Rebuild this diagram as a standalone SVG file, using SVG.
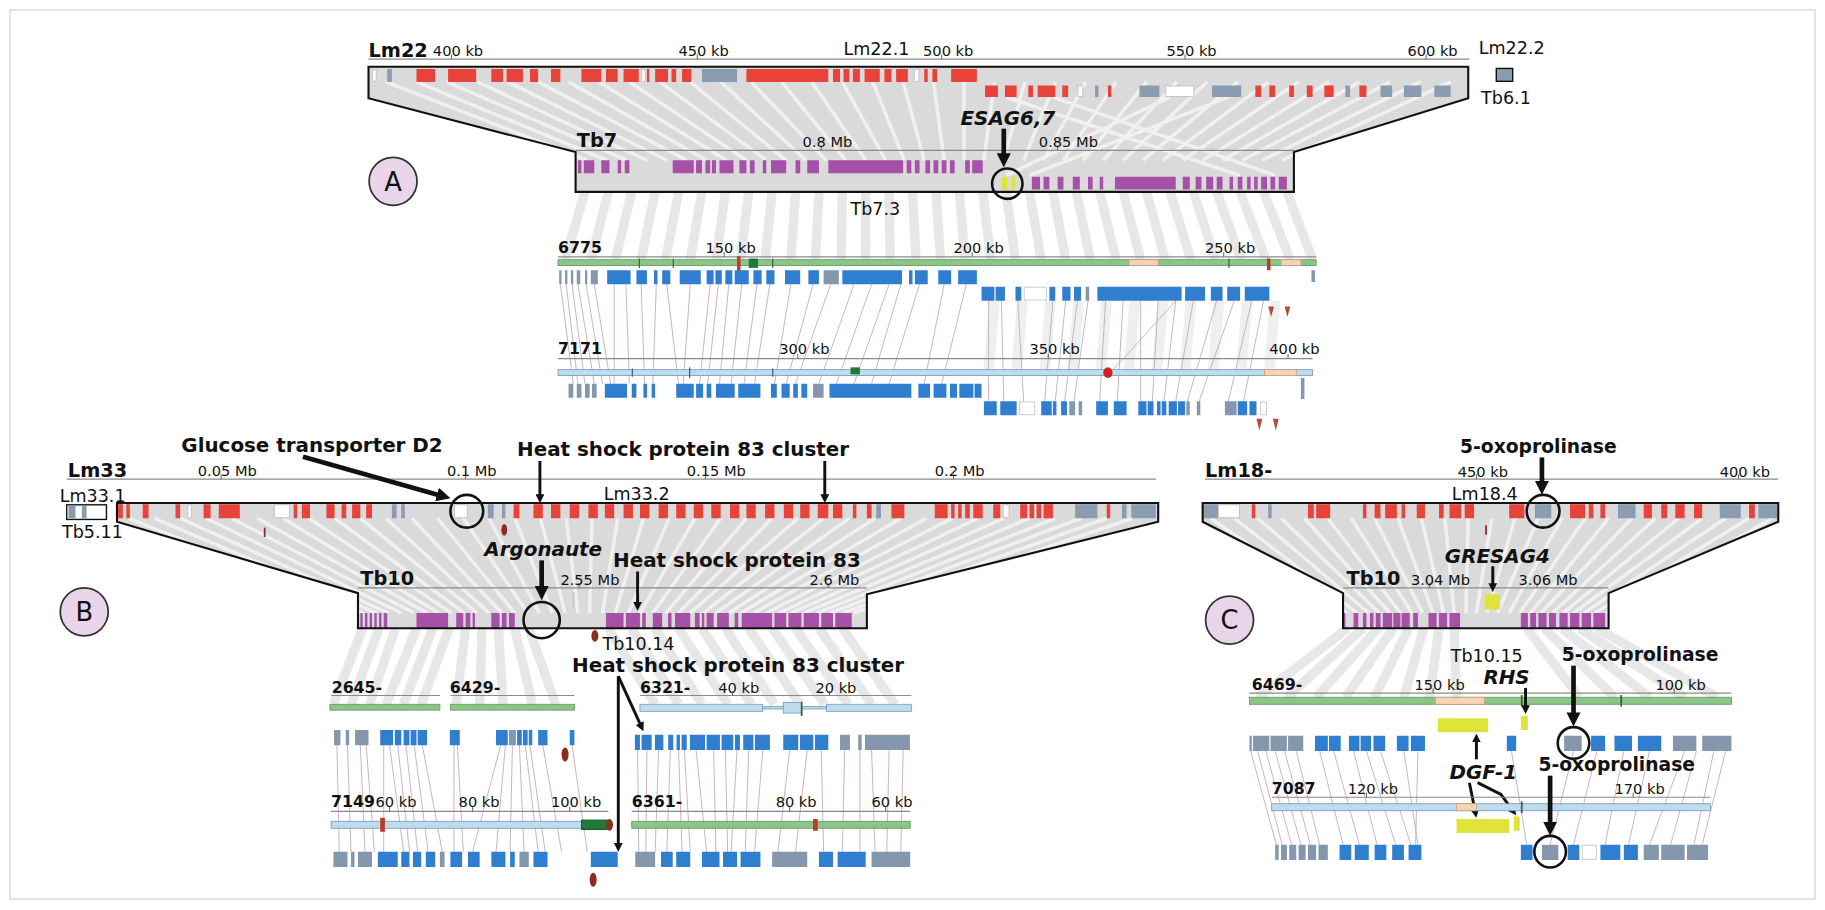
<svg xmlns="http://www.w3.org/2000/svg" width="1825" height="910" viewBox="0 0 1825 910">
<defs>
<style>
.t{font-family:"DejaVu Sans","Liberation Sans",sans-serif;fill:#111}
.kb{font-size:12.5px}
.nm{font-size:16.5px;font-weight:bold}
.sub{font-size:15px}
.ct{font-size:13.5px;font-weight:bold}
.lbl{font-size:17px;font-weight:bold}
.lb16{font-size:16px;font-weight:bold}
.lbi{font-size:17px;font-weight:bold;font-style:italic}
.cl{font-size:22px;text-anchor:middle}
.r{fill:#e8433a}.g{fill:#8a9cb0}.o{fill:#fff;stroke:#b4b4b4;stroke-width:.6}
.p{fill:#a650a8}.b{fill:#2f7ed0}.gb{fill:#8597ac}.y{fill:#dfe33a}
.ax{stroke:#8a8a8a;stroke-width:1;fill:none}
.tk{stroke:#555;stroke-width:.8;fill:none}
.box{fill:#dadada;stroke:none}
.edge{fill:none;stroke:#111;stroke-width:1.8;stroke-linejoin:miter}
.sw{stroke:#fff;stroke-opacity:.6;stroke-width:3;fill:none}
.bd{stroke:#e7e7e7;stroke-width:8;fill:none}
.bd2{stroke:#efefef;stroke-width:9;fill:none}
.cn{stroke:#c4aec4;stroke-width:.8;fill:none}
.gr{fill:#8cc587;stroke:#5e9a5a;stroke-width:.7}
.lb{fill:#bfdbec;stroke:#6f9cb8;stroke-width:.7}
.pc{fill:#f5d3b3;stroke:#c49c7c;stroke-width:.6}
.dr{fill:#8b2e1f}
.ring{fill:none;stroke:#111;stroke-width:2.2}
.circ{fill:#e8d5ea;stroke:#333;stroke-width:1.5}
.ar4{stroke:#111;stroke-width:4;fill:none;marker-end:url(#ah)}
.ar2{stroke:#111;stroke-width:2.5;fill:none;marker-end:url(#ah)}
</style>
<marker id="ah" viewBox="0 0 10 10" refX="3" refY="5" markerWidth="3" markerHeight="3" orient="auto" markerUnits="strokeWidth"><path d="M0,0L10,5L0,10z" fill="#111"/></marker>
<clipPath id="cA"><polygon points="315,57 1255,57 1255,84 1106,130 1106,164 492,164 492,130 315,84"/></clipPath>
<clipPath id="cB"><polygon points="100,430 990,430 990,446 741,508 741,537 306,537 306,507 100,446"/></clipPath>
<clipPath id="cC"><polygon points="1028,430 1520,430 1520,446 1375,507 1375,537 1148,537 1148,507 1028,446"/></clipPath>
</defs>
<rect width="1825" height="910" fill="#fff"/>
<rect x="10" y="10" width="1805" height="889" fill="none" stroke="#d2d2d2" stroke-width="1.2"/>
<g transform="scale(1.1699)">

<g id="connectors">
<path class="bd" d="M500 164L483 222M520 164L505 222M540 164L526 222M560 164L548 222M580 164L569 222M600 164L590 222M620 164L612 222M640 164L633 222M660 164L654 222M680 164L676 222M700 164L697 222M720 164L719 222M740 164L740 222M760 164L761 222M780 164L783 222M800 164L804 222M820 164L825 222M840 164L847 222M860 164L868 222M880 164L890 222M900 164L911 222M920 164L932 222M940 164L954 222M960 164L975 222M980 164L996 222M1000 164L1018 222M1020 164L1039 222M1040 164L1061 222M1060 164L1082 222M1080 164L1103 222M1100 164L1122 222"/>
<path class="bd2" d="M850 257L845 316M874 257L869 316M898 257L893 316M922 257L917 316M946 257L941 316M970 257L965 316M994 257L989 316M1018 257L1013 316M1042 257L1037 316M1066 257L1061 316M1090 257L1085 316"/>
<path class="cn" d="M479 243L490 328M484 243L494 328M489 243L500 328M494 243L508 328M501 243L515 328M508 243L522 328M525 243L525 328M535 243L538 328M548 243L551 328M561 243L558 328M570 243L580 328M590 243L584 328M607 243L598 328M614 243L605 328M623 243L615 328M634 243L625 328M647 243L636 328M658 243L645 328M676 243L662 328M695 243L672 328M710 243L680 328M730 243L700 328M745 243L715 328M760 243L730 328M770 243L745 328M786 243L760 328M807 243L790 328M826 243L805 328M845 257L845 343M856 257L858 343M870 257L875 343M900 257L893 343M911 257L902 343M921 257L910 343M930 257L918 343M945 257L940 343M960 257L955 343M975 257L975 343M990 257L985 343M1005 257L995 343M1020 257L1005 343M1040 257L1015 343M1055 257L1025 343M1070 257L1050 343M1080 257L1063 343M1005 257L948 320"/>
<path class="bd" d="M310 537L285 602M324 537L300 602M338 537L316 602M356 537L330 602M370 537L345 602M384 537L360 602M398 537L390 602M412 537L410 602M426 537L430 602M440 537L455 602M452 537L475 602M520 537L560 602M540 537L580 602M560 537L600 602M580 537L622 602M600 537L642 602M620 537L662 602M640 537L684 602M660 537L705 602M680 537L725 602M700 537L745 602M720 537L765 602"/>
<path class="cn" d="M288 637L290 728M297 637L300 728M308 637L312 728M313 637L320 728M328 637L328 728M333 637L345 728M340 637L350 728M347 637L357 728M354 637L366 728M361 637L378 728M388 637L388 728M391 637L396 728M428 637L404 728M432 637L424 728M438 637L436 728M444 637L448 728M449 637L460 728M453 637L466 728M464 637L480 728M489 637L502 728M545 641L546 728M553 641L552 728M563 641L560 728M573 641L570 728M580 641L583 728M585 641L590 728M595 641L604 728M610 641L612 728M620 641L622 728M630 641L625 728M640 641L637 728M652 641L645 728M675 641L665 728M690 641L680 728M702 641L704 728M722 641L720 728M735 641L735 728M745 641L748 728M760 641L758 728M772 641L770 728"/>
<path class="bd" d="M1152 537L1075 596M1165 537L1100 596M1178 537L1125 596M1191 537L1150 596M1204 537L1175 596M1217 537L1200 596M1230 537L1222 596M1243 537L1245 596M1305 537L1350 596M1320 537L1380 596M1335 537L1410 596M1350 537L1440 596M1365 537L1468 596"/>
<path class="cn" d="M1069 642L1091 722M1075 642L1096 722M1082 642L1104 722M1090 642L1112 722M1098 642L1120 722M1108 642L1128 722M1128 642L1148 722M1140 642L1162 722M1157 642L1177 722M1168 642L1193 722M1180 642L1206 722M1200 642L1212 722M1212 642L1210 722M1292 642L1305 722M1345 642L1325 722M1365 642L1345 722M1388 642L1372 722M1410 642L1392 722M1440 642L1410 722M1450 642L1428 722M1465 642L1448 722M1475 642L1455 722"/>
</g>

<g id="panelA">
<g id="boxA">
<polygon class="box" points="315,57 1255,57 1255,84 1106,130 1106,164 492,164 492,130 315,84"/>
<path class="sw" clip-path="url(#cA)" d="M330 70L502 137M356 70L519 137M382 70L536 137M408 70L553 137M434 70L570 137M460 70L587 137M486 70L604 137M512 70L621 137M538 70L638 137M564 70L655 137M590 70L672 137M616 70L689 137M642 70L706 137M668 70L723 137M694 70L740 137M720 70L757 137M746 70L773 137M772 70L790 137M798 70L807 137M824 70L824 137M850 70L841 137M876 70L858 137M902 70L875 137M928 70L892 137M954 70L909 137M980 70L926 137M1006 70L943 137M1032 70L960 137M1058 70L977 137M1084 70L994 137M1110 70L1011 137M1136 70L1028 137M1162 70L1045 137M1188 70L1062 137M1214 70L1079 137M1240 70L1096 137M860 83L1060 150M900 83L1090 150M1000 83L860 150M1050 83L880 150"/>
<line class="ax" x1="492" y1="128.5" x2="1106" y2="128.5"/>
<path class="tk" d="M702 128.5v-4M904 128.5v-4"/>
<path class="r" d="M356 59h16v11h-16zM383 59h24v11h-24zM420 59h10v11h-10zM433 59h14v11h-14zM453 59h7v11h-7zM471 59h8v11h-8zM497 59h17v11h-17zM518 59h10v11h-10zM533 59h13v11h-13zM553 59h2v11h-2zM560 59h11v11h-11zM574 59h4v11h-4zM583 59h8v11h-8zM638 59h70v11h-70zM712 59h6v11h-6zM721 59h5v11h-5zM729 59h6v11h-6zM739 59h13v11h-13zM756 59h6v11h-6zM766 59h10v11h-10zM790 59h3v11h-3zM797 59h4v11h-4zM813 59h22v11h-22z"/>
<path class="g" d="M331 59h4v11h-4zM600 59h30v11h-30z"/>
<path class="o" d="M318.5 59.5h3v10h-3zM548.5 59.5h3v10h-3zM781.5 59.5h4v10h-4z"/>
<path class="r" d="M842 73h11v10h-11zM859 73h10v10h-10zM879 73h4v10h-4zM887 73h15v10h-15zM908 73h5v10h-5zM947 73h3v10h-3zM1073 73h5v10h-5zM1085 73h5v10h-5zM1102 73h4v10h-4zM1117 73h5v10h-5zM1132 73h8v10h-8zM1162 73h6v10h-6z"/>
<path class="g" d="M936 73h3v10h-3zM974 73h17v10h-17zM1036 73h25v10h-25zM1150 73h4v10h-4zM1180 73h10v10h-10zM1200 73h15v10h-15zM1226 73h14v10h-14z"/>
<path class="o" d="M921.5 73.5h4v9h-4zM996.5 73.5h24v9h-24z"/>
<path class="p" d="M494 137h3v11h-3zM499 137h9v11h-9zM514 137h7v11h-7zM528 137h3v11h-3zM534 137h4v11h-4zM575 137h18v11h-18zM595 137h5v11h-5zM603 137h4v11h-4zM608.5 137h3.5v11h-3.5zM615 137h12v11h-12zM632 137h6v11h-6zM641 137h4v11h-4zM652 137h3v11h-3zM659 137h13v11h-13zM680 137h4v11h-4zM690 137h10v11h-10zM708 137h64v11h-64zM775 137h4v11h-4zM782 137h4v11h-4zM791 137h4v11h-4zM798 137h4v11h-4zM805 137h4v11h-4zM812 137h4v11h-4zM825 137h4v11h-4zM831 137h9v11h-9z"/>
<path class="p" d="M882 151h7v11h-7zM892 151h5v11h-5zM904 151h5v11h-5zM917 151h6v11h-6zM930 151h4v11h-4zM940 151h3v11h-3zM953 151h52v11h-52zM1011 151h6v11h-6zM1022 151h5v11h-5zM1031 151h6v11h-6zM1040 151h5v11h-5zM1051 151h3v11h-3zM1058 151h4v11h-4zM1066 151h3v11h-3zM1072 151h3v11h-3zM1078 151h5v11h-5zM1086 151h4v11h-4zM1093 151h7v11h-7z"/>
<path class="y" d="M856.5 151h4.5v11h-4.5zM864.5 151h3.5v11h-3.5z"/>
<polygon class="edge" points="315,57 1255,57 1255,84 1106,130 1106,164 492,164 492,130 315,84"/>
</g>
<line class="ax" x1="315" y1="50.5" x2="1256" y2="50.5"/>
<path class="tk" d="M386 50.5v-4M596 50.5v-4M805 50.5v-4M1013 50.5v-4M1219 50.5v-4"/>
<text class="t nm" x="315" y="48.5">Lm22</text>
<text class="t kb" x="370" y="48">400 kb</text>
<text class="t kb" x="580" y="48">450 kb</text>
<text class="t sub" x="721" y="47">Lm22.1</text>
<text class="t kb" x="789" y="48">500 kb</text>
<text class="t kb" x="997" y="48">550 kb</text>
<text class="t kb" x="1203" y="48">600 kb</text>
<text class="t nm" x="493" y="126">Tb7</text>
<text class="t kb" x="686" y="126">0.8 Mb</text>
<text class="t kb" x="888" y="126">0.85 Mb</text>
<g id="lm222">
<text class="t sub" x="1264" y="46">Lm22.2</text>
<rect x="1279" y="58.5" width="14" height="11" fill="#8a9cb0" stroke="#111" stroke-width="1.2"/>
<text class="t sub" x="1266" y="89">Tb6.1</text>
</g>
<g id="esag">
<text class="t lbi" x="821" y="107">ESAG6,7</text>
<line class="ar4" x1="858" y1="110" x2="858" y2="134.6"/>
<circle class="ring" cx="861" cy="157" r="13"/>
</g>
<text class="t sub" x="727" y="184">Tb7.3</text>
<g id="labelA"><circle class="circ" cx="336" cy="155" r="20.5"/><text class="t cl" x="336" y="163">A</text></g>
<g id="c6775">
<text class="t ct" x="477" y="216">6775</text>
<text class="t kb" x="603" y="216">150 kb</text>
<text class="t kb" x="815" y="216">200 kb</text>
<text class="t kb" x="1030" y="216">250 kb</text>
<line class="ax" x1="477" y1="219.5" x2="1125" y2="219.5"/>
<path class="tk" d="M619 219.5v-4M831 219.5v-4M1046 219.5v-4"/>
<rect class="gr" x="477" y="222" width="648" height="5"/>
<rect class="pc" x="965" y="222" width="25" height="5"/>
<rect class="pc" x="1095" y="222" width="17" height="5"/>
<path fill="#c0392b" d="M630 219h3v13h-3zM1083 221h3v10h-3z"/>
<path fill="#1e7a3a" d="M640 221h8v8h-8z"/>
<path fill="#3b5f3b" d="M546 221h1v8h-1zM575 221h1v8h-1zM660 221h1v8h-1zM1050 221h1v8h-1z"/>
<path class="gb" d="M478 231h2v12h-2zM483 231h2v12h-2zM488 231h2v12h-2zM493 231h3v12h-3zM500 231h2v12h-2zM505 231h6v12h-6zM704 231h13v12h-13zM1121 231h3v10h-3zM928 245h3v12h-3z"/>
<path class="b" d="M519 231h20v12h-20zM544 231h9v12h-9zM559 231h3v12h-3zM566 231h7v12h-7zM581 231h18v12h-18zM604 231h6v12h-6zM611.5 231h5.5v12h-5.5zM620 231h6v12h-6zM628 231h12v12h-12zM644 231h7v12h-7zM655 231h7v12h-7zM671 231h13v12h-13zM691 231h9v12h-9zM720 231h51v12h-51zM777 231h3v12h-3zM782 231h11v12h-11zM802 231h11v12h-11zM819 231h16v12h-16z"/>
<path class="b" d="M839 245h11v12h-11zM851 245h8v12h-8zM868 245h5v12h-5zM897 245h5v12h-5zM908 245h7v12h-7zM918 245h6v12h-6zM938 245h72v12h-72zM1013 245h17v12h-17zM1035 245h10v12h-10zM1049 245h11v12h-11zM1064 245h21v12h-21z"/>
<path class="o" d="M875.5 245.5h19v11h-19z"/>
<path fill="#b0503c" d="M1084 262l2.5 9l2.5-9zM1098 262l2.5 9l2.5-9z"/>
</g>
<g id="c7171">
<text class="t ct" x="477" y="303">7171</text>
<text class="t kb" x="666" y="303">300 kb</text>
<text class="t kb" x="880" y="303">350 kb</text>
<text class="t kb" x="1085" y="303">400 kb</text>
<line class="ax" x1="477" y1="306.5" x2="1122" y2="306.5"/>
<path class="tk" d="M682 306.5v-4M896 306.5v-4M1101 306.5v-4"/>
<rect class="lb" x="477" y="316" width="645" height="5"/>
<rect class="pc" x="1081" y="316" width="27" height="5"/>
<ellipse cx="947" cy="318.5" rx="4" ry="4.5" fill="#d42020"/>
<path fill="#1e7a3a" d="M727 314h8v6h-8z"/>
<path fill="#3b5a6a" d="M540 315h1v7h-1zM660 315h1v7h-1zM589 314h1v9h-1z"/>
<path class="gb" d="M486 328h4v12h-4zM493 328h4v12h-4zM500 328h4v12h-4zM506 328h4v12h-4zM695 328h9v12h-9zM1112 323h3v18h-3zM914 343h5v12h-5zM922 343h3v12h-3zM1014 343h3v12h-3zM1023 343h3v12h-3zM1047 343h10v12h-10z"/>
<path class="b" d="M517 328h19v12h-19zM540 328h4v12h-4zM550 328h3v12h-3zM557 328h3v12h-3zM578 328h15v12h-15zM595 328h6v12h-6zM604 328h4v12h-4zM612 328h16v12h-16zM631 328h19v12h-19zM659 328h5v12h-5zM668 328h7v12h-7zM678 328h4v12h-4zM685 328h5v12h-5zM709 328h70v12h-70zM785 328h10v12h-10zM798 328h11v12h-11zM812 328h6v12h-6zM820 328h12v12h-12zM833 328h6v12h-6z"/>
<path class="b" d="M841 343h11v12h-11zM855 343h14v12h-14zM890 343h9v12h-9zM900 343h3v12h-3zM907 343h5v12h-5zM937 343h10v12h-10zM952 343h11v12h-11zM973 343h7v12h-7zM981 343h5v12h-5zM989 343h3v12h-3zM993 343h4v12h-4zM999 343h7v12h-7zM1007 343h6v12h-6zM1058 343h8v12h-8zM1068 343h6v12h-6z"/>
<path class="o" d="M871.5 343.5h13v11h-13zM1077.5 343.5h5v11h-5z"/>
<path fill="#b0503c" d="M1074 358l2.5 10l2.5-10zM1088 358l2.5 10l2.5-10z"/>
</g>
</g>

<g id="panelB">
<g id="boxB">
<polygon class="box" points="100,430 990,430 990,446 741,508 741,537 306,537 306,507 100,446"/>
<path class="sw" clip-path="url(#cB)" d="M110 443L311 524M132 443L322 524M154 443L332 524M176 443L343 524M198 443L354 524M220 443L365 524M242 443L375 524M264 443L386 524M286 443L397 524M308 443L408 524M330 443L418 524M352 443L429 524M374 443L440 524M396 443L451 524M418 443L461 524M440 443L472 524M462 443L483 524M484 443L494 524M506 443L504 524M528 443L515 524M550 443L526 524M572 443L537 524M594 443L547 524M616 443L558 524M638 443L569 524M660 443L580 524M682 443L590 524M704 443L601 524M726 443L612 524M748 443L623 524M770 443L633 524M792 443L644 524M814 443L655 524M836 443L666 524M858 443L676 524M880 443L687 524M902 443L698 524M924 443L709 524M946 443L720 524M968 443L730 524"/>
<line class="ax" x1="306" y1="502.5" x2="741" y2="502.5"/>
<path class="tk" d="M495 502.5v-4M708 502.5v-4"/>
<path class="r" d="M101 431h4v12h-4zM108 431h3v12h-3zM122 431h5v12h-5zM150 431h4v12h-4zM174 431h6v12h-6zM187 431h18v12h-18zM251 431h3v12h-3zM258 431h7v12h-7zM279 431h7v12h-7zM292 431h4v12h-4zM301 431h7v12h-7zM313 431h5v12h-5zM439 431h5v12h-5zM456 431h8v12h-8zM471 431h8v12h-8zM487 431h8v12h-8zM503 431h8v12h-8zM517 431h8v12h-8zM533 431h8v12h-8zM547 431h8v12h-8zM563 431h8v12h-8zM578 431h8v12h-8zM593 431h8v12h-8zM608 431h8v12h-8zM624 431h8v12h-8zM638 431h8v12h-8zM654 431h8v12h-8zM670 431h8v12h-8zM684 431h8v12h-8zM699 431h9v12h-9zM712 431h8v12h-8zM729 431h3v12h-3zM741 431h4v12h-4zM762 431h11v12h-11zM799 431h11v12h-11zM813 431h3v12h-3zM819 431h3v12h-3zM825 431h4v12h-4zM832 431h8v12h-8zM849 431h6v12h-6zM872 431h6v12h-6zM880 431h4v12h-4zM886 431h4v12h-4zM892 431h8v12h-8zM946 431h3v12h-3z"/>
<path class="g" d="M335 431h4v12h-4zM343 431h3v12h-3zM417 431h5v12h-5zM429 431h3v12h-3zM749 431h4v12h-4zM919 431h19v12h-19zM959 431h4v12h-4zM967 431h21v12h-21z"/>
<path class="o" d="M160.5 431.5h3v11h-3zM234.5 431.5h13v11h-13zM388.5 431.5h11v11h-11zM857.5 431.5h5v11h-5z"/>
<path class="p" d="M308 524h2v13h-2zM312 524h2v13h-2zM316 524h2v13h-2zM320 524h2v13h-2zM324 524h2v13h-2zM328 524h3v13h-3zM356 524h27v13h-27zM390 524h6v13h-6zM398 524h4v13h-4zM404 524h2v13h-2zM420 524h7v13h-7zM429 524h4v13h-4zM435 524h5v13h-5zM518 524h15v13h-15zM535 524h12v13h-12zM549 524h3v13h-3zM558 524h8v13h-8zM571 524h3v13h-3zM577 524h13v13h-13zM594 524h4v13h-4zM600 524h2v13h-2zM604 524h6v13h-6zM613 524h10v13h-10zM628 524h3v13h-3zM634 524h26v13h-26zM662 524h10v13h-10zM674 524h11v13h-11zM687 524h13v13h-13zM702 524h10v13h-10zM714 524h14v13h-14z"/>
<path fill="#c8c8c8" d="M489.5 506h1.5v14h-1.5z"/>
<path class="dr" d="M225.5 451h1.5v8h-1.5z"/>
<ellipse class="dr" cx="431" cy="453" rx="2.5" ry="5"/>
<polygon class="edge" points="100,430 990,430 990,446 741,508 741,537 306,537 306,507 100,446"/>
</g>
<line class="ax" x1="57" y1="409.5" x2="988" y2="409.5"/>
<path class="tk" d="M189 409.5v-4M398 409.5v-4M603 409.5v-4M815 409.5v-4"/>
<text class="t nm" x="58" y="407.5">Lm33</text>
<text class="t kb" x="169" y="407">0.05 Mb</text>
<text class="t kb" x="382" y="407">0.1 Mb</text>
<text class="t kb" x="587" y="407">0.15 Mb</text>
<text class="t kb" x="799" y="407">0.2 Mb</text>
<text class="t sub" x="516" y="427">Lm33.2</text>
<text class="t nm" x="308" y="500">Tb10</text>
<text class="t kb" x="479" y="500">2.55 Mb</text>
<text class="t kb" x="692" y="500">2.6 Mb</text>
<g id="lm331">
<text class="t sub" x="51" y="429">Lm33.1</text>
<rect x="57" y="431.5" width="34" height="12.5" fill="#fff" stroke="#111" stroke-width="1.2"/>
<path class="g" d="M58.5 432.5h6v10.5h-6zM70 432.5h4v10.5h-4z"/>
<text class="t sub" x="53" y="460">Tb5.11</text>
</g>
<g id="glucose">
<text class="t lbl" x="155" y="386">Glucose transporter D2</text>
<line class="ar4" x1="259" y1="390.5" x2="377" y2="423.7"/>
<circle class="ring" cx="399" cy="437" r="14"/>
</g>
<g id="hspcluster1">
<text class="t lbl" x="442" y="389.5">Heat shock protein 83 cluster</text>
<line class="ar2" x1="461.5" y1="394" x2="461.5" y2="424.8"/>
<line class="ar2" x1="705" y1="394" x2="705" y2="424.8"/>
</g>
<g id="argonaute">
<text class="t lbi" x="414" y="475">Argonaute</text>
<line class="ar4" x1="463" y1="479" x2="463" y2="504.6"/>
<circle class="ring" cx="463" cy="530" r="15.5"/>
</g>
<g id="hsp83">
<text class="t lbl" x="524" y="484.5">Heat shock protein 83</text>
<line class="ar2" x1="545" y1="488.5" x2="545" y2="516.8"/>
</g>
<ellipse class="dr" cx="508.5" cy="543.5" rx="3" ry="5"/>
<text class="t sub" x="515" y="555.5">Tb10.14</text>
<g id="hspcluster2">
<text class="t lbl" x="489" y="574">Heat shock protein 83 cluster</text>
<line class="ar2" x1="528.5" y1="578" x2="528.5" y2="722.8"/>
<line class="ar2" x1="528.5" y1="578" x2="547.8" y2="620.2"/>
</g>
<g id="labelB"><circle class="circ" cx="72" cy="523" r="20.5"/><text class="t cl" x="72" y="531">B</text></g>
<g id="c2645">
<text class="t ct" x="283.5" y="592.5">2645-</text>
<text class="t ct" x="384.5" y="592.5">6429-</text>
<line class="ax" x1="283" y1="594.5" x2="376" y2="594.5"/>
<line class="ax" x1="385" y1="594.5" x2="491" y2="594.5"/>
<rect class="gr" x="282" y="602" width="94" height="5"/>
<rect class="gr" x="385" y="602" width="106" height="5"/>
<path class="gb" d="M285.5 624h5.5v13h-5.5zM295.5 624h3v13h-3zM303.5 624h11.5v13h-11.5zM435 624h6v13h-6z"/>
<path class="b" d="M325 624h11v13h-11zM337.5 624h5.5v13h-5.5zM345 624h5v13h-5zM351 624h5v13h-5zM357 624h8v13h-8zM384.5 624h8.5v13h-8.5zM424 624h10v13h-10zM442 624h4v13h-4zM447 624h4v13h-4zM452 624h3v13h-3zM460 624h8v13h-8zM487 624h4v13h-4z"/>
<ellipse class="dr" cx="483" cy="645" rx="3" ry="6"/>
</g>
<g id="c6321">
<text class="t ct" x="547" y="592.3">6321-</text>
<text class="t kb" x="614" y="592">40 kb</text>
<text class="t kb" x="697" y="592">20 kb</text>
<line class="ax" x1="547" y1="594.5" x2="779" y2="594.5"/>
<path class="tk" d="M626 594.5v-4M709 594.5v-4"/>
<rect class="lb" x="547" y="602" width="105" height="6"/>
<rect class="lb" x="652" y="604" width="54" height="2"/>
<rect class="lb" x="669.5" y="600.5" width="15.5" height="9"/>
<rect class="lb" x="706.5" y="602" width="72.5" height="6"/>
<path fill="#3b5a6a" d="M684.5 600h1.5v12h-1.5z"/>
<path class="b" d="M542.7 628h4.3v13h-4.3zM548.4 628h8.6v13h-8.6zM559.8 628h7.2v13h-7.2zM571.2 628h4.3v13h-4.3zM578.3 628h2.9v13h-2.9zM582.6 628h4.4v13h-4.4zM589.7 628h12.9v13h-12.9zM604 628h11.4v13h-11.4zM616.8 628h10v13h-10zM628.2 628h4.3v13h-4.3zM635.3 628h8.7v13h-8.7zM645.3 628h12.8v13h-12.8zM669.5 628h12.8v13h-12.8zM683.8 628h11.4v13h-11.4zM696.6 628h11.4v13h-11.4z"/>
<path class="gb" d="M718 628h8.5v13h-8.5zM733.6 628h2.9v13h-2.9zM739.3 628h38.5v13h-38.5z"/>
</g>
<g id="c7149">
<text class="t ct" x="283" y="690">7149</text>
<text class="t kb" x="321" y="690">60 kb</text>
<text class="t kb" x="392" y="690">80 kb</text>
<text class="t kb" x="471" y="690">100 kb</text>
<text class="t ct" x="540" y="690">6361-</text>
<text class="t kb" x="663" y="690">80 kb</text>
<text class="t kb" x="745" y="690">60 kb</text>
<line class="ax" x1="283" y1="693.5" x2="520" y2="693.5"/>
<line class="ax" x1="540" y1="693.5" x2="778" y2="693.5"/>
<path class="tk" d="M333 693.5v-4M404 693.5v-4M487 693.5v-4M675 693.5v-4M757 693.5v-4"/>
<rect class="lb" x="283" y="702" width="237" height="6"/>
<rect class="gr" x="540" y="702" width="238" height="6"/>
<path fill="#c0392b" d="M325 699h4v12h-4zM695 700h4v10h-4z"/>
<rect x="497" y="701" width="22" height="8" fill="#1e7a3a" stroke="#0f4f22" stroke-width=".8"/>
<ellipse class="dr" cx="521" cy="705" rx="3" ry="5"/>
<path class="gb" d="M285 728h12v13h-12zM300 728h3v13h-3zM306 728h12v13h-12zM376 728h4v13h-4zM444 728h8v13h-8zM543 728h17v13h-17zM660 728h30v13h-30zM745 728h33v13h-33z"/>
<path class="b" d="M323 728h17v13h-17zM343 728h7v13h-7zM353 728h7v13h-7zM364 728h8v13h-8zM385 728h10v13h-10zM400 728h10v13h-10zM420 728h12v13h-12zM436 728h4v13h-4zM456 728h12v13h-12zM505 728h23v13h-23zM565 728h10v13h-10zM578 728h12v13h-12zM600 728h15v13h-15zM618 728h12v13h-12zM633 728h17v13h-17zM700 728h12v13h-12zM716 728h24v13h-24z"/>
<ellipse class="dr" cx="507" cy="752" rx="3" ry="6"/>
</g>
</g>

<g id="panelC">
<g id="boxC">
<polygon class="box" points="1028,430 1520,430 1520,446 1375,507 1375,537 1148,537 1148,507 1028,446"/>
<path class="sw" clip-path="url(#cC)" d="M1035 443L1151 524M1055 443L1160 524M1075 443L1170 524M1095 443L1179 524M1115 443L1188 524M1135 443L1197 524M1155 443L1207 524M1175 443L1216 524M1195 443L1225 524M1215 443L1234 524M1235 443L1243 524M1255 443L1253 524M1275 443L1262 524M1295 443L1271 524M1315 443L1280 524M1335 443L1290 524M1355 443L1299 524M1375 443L1308 524M1395 443L1317 524M1415 443L1327 524M1435 443L1336 524M1455 443L1345 524M1475 443L1354 524M1495 443L1363 524M1515 443L1373 524"/>
<line class="ax" x1="1148" y1="502.5" x2="1375" y2="502.5"/>
<path class="tk" d="M1222 502.5v-4M1314 502.5v-4"/>
<path class="r" d="M1070 431h3v12h-3zM1118 431h5v12h-5zM1125 431h12v12h-12zM1165 431h3v12h-3zM1175 431h5v12h-5zM1184 431h10v12h-10zM1198 431h3v12h-3zM1211 431h7v12h-7zM1230 431h4v12h-4zM1239 431h10v12h-10zM1252 431h8v12h-8zM1290 431h13v12h-13zM1342 431h13v12h-13zM1358 431h4v12h-4zM1368 431h4v12h-4zM1405 431h7v12h-7zM1420 431h5v12h-5zM1432 431h8v12h-8zM1448 431h7v12h-7zM1495 431h5v12h-5z"/>
<path class="g" d="M1028.5 431h12.5v12h-12.5zM1084 431h3v12h-3zM1312 431h14v12h-14zM1383 431h15v12h-15zM1470 431h18v12h-18zM1503 431h16v12h-16z"/>
<path class="o" d="M1041.5 431.5h18v11h-18z"/>
<path class="dr" d="M1269.5 449h1.5v8h-1.5z"/>
<path class="p" d="M1148 524h2v13h-2zM1157 524h4v13h-4zM1165 524h3v13h-3zM1171 524h3v13h-3zM1176 524h4v13h-4zM1182 524h8v13h-8zM1191 524h6v13h-6zM1198 524h7v13h-7zM1208 524h4v13h-4zM1221 524h7v13h-7zM1230 524h7v13h-7zM1239 524h9v13h-9zM1300 524h6v13h-6zM1308 524h5v13h-5zM1315 524h7v13h-7zM1324 524h6v13h-6zM1333 524h7v13h-7zM1342 524h8v13h-8zM1352 524h8v13h-8zM1362 524h10v13h-10z"/>
<path class="y" d="M1269 508h13v13h-13z"/>
<polygon class="edge" points="1028,430 1520,430 1520,446 1375,507 1375,537 1148,537 1148,507 1028,446"/>
</g>
<line class="ax" x1="1030" y1="409.5" x2="1520" y2="409.5"/>
<path class="tk" d="M1262 409.5v-4M1486 409.5v-4"/>
<text class="t nm" x="1030" y="407.5">Lm18-</text>
<text class="t kb" x="1246" y="407.5">450 kb</text>
<text class="t kb" x="1470" y="407.5">400 kb</text>
<text class="t sub" x="1241" y="427.5">Lm18.4</text>
<text class="t nm" x="1151" y="500">Tb10</text>
<text class="t kb" x="1206" y="500">3.04 Mb</text>
<text class="t kb" x="1298" y="500">3.06 Mb</text>
<text class="t sub" x="1240" y="566">Tb10.15</text>
<g id="oxo1">
<text class="t lb16" x="1248" y="387">5-oxoprolinase</text>
<line class="ar4" x1="1318" y1="391" x2="1318" y2="414.6"/>
<circle class="ring" cx="1319" cy="437" r="14"/>
</g>
<g id="gresag">
<text class="t lbi" x="1235" y="481">GRESAG4</text>
<line class="ar2" x1="1276" y1="484" x2="1276" y2="500.8"/>
</g>
<g id="labelC"><circle class="circ" cx="1051" cy="530" r="20.5"/><text class="t cl" x="1051" y="538">C</text></g>
<g id="c6469">
<text class="t ct" x="1070" y="590">6469-</text>
<text class="t kb" x="1209" y="590">150 kb</text>
<text class="t kb" x="1415" y="590">100 kb</text>
<line class="ax" x1="1068" y1="592.5" x2="1480" y2="592.5"/>
<path class="tk" d="M1225 592.5v-4M1431 592.5v-4"/>
<rect class="gr" x="1068" y="596" width="412" height="6"/>
<rect class="pc" x="1227" y="596" width="42" height="6"/>
<path fill="#3b5f3b" d="M1300 594h1.5v10h-1.5zM1385 594h1.5v10h-1.5z"/>
<path class="y" d="M1229 614h43v12h-43zM1300 612h6v12h-6z"/>
<path class="gb" d="M1068 629h2v13h-2zM1071 629h14v13h-14zM1086 629h14v13h-14zM1101 629h13v13h-13zM1337 629h15v13h-15zM1430 629h20v13h-20zM1455 629h25v13h-25z"/>
<path class="b" d="M1124 629h11v13h-11zM1136 629h10v13h-10zM1153 629h9v13h-9zM1163 629h9v13h-9zM1174 629h10v13h-10zM1194 629h10v13h-10zM1206 629h12v13h-12zM1288 629h8v13h-8zM1360 629h12v13h-12zM1380 629h15v13h-15zM1400 629h20v13h-20z"/>
</g>
<g id="rhs">
<text class="t lbi" x="1268" y="585">RHS</text>
<line class="ar2" x1="1304" y1="588" x2="1304" y2="605"/>
</g>
<g id="oxo2">
<text class="t lb16" x="1335" y="565">5-oxoprolinase</text>
<line class="ar4" x1="1345" y1="569" x2="1345" y2="612.6"/>
<circle class="ring" cx="1345" cy="635" r="13.5"/>
</g>
<g id="dgf">
<text class="t lbi" x="1239" y="666">DGF-1</text>
<line class="ar2" x1="1262" y1="649" x2="1262" y2="632.3"/>
<line class="ar2" x1="1256" y1="669" x2="1261" y2="693.9"/>
<polyline class="ar2" points="1263,669 1283,679 1292.9,692.7"/>
</g>
<g id="c7087">
<text class="t ct" x="1087" y="679">7087</text>
<text class="t kb" x="1152" y="679">120 kb</text>
<text class="t kb" x="1380" y="679">170 kb</text>
<line class="ax" x1="1087" y1="681.5" x2="1462" y2="681.5"/>
<path class="tk" d="M1168 681.5v-4M1396 681.5v-4"/>
<rect class="lb" x="1087" y="687" width="375" height="6"/>
<rect class="pc" x="1245" y="687" width="17" height="6"/>
<path fill="#3b5a6a" d="M1300 685h1.5v10h-1.5z"/>
<path class="y" d="M1245 700h45v12h-45zM1294 698h5v12h-5z"/>
<path class="gb" d="M1090 722h3v13h-3zM1095 722h5v13h-5zM1102 722h6v13h-6zM1110 722h6v13h-6zM1118 722h7v13h-7zM1127 722h8v13h-8zM1318 722h14v13h-14zM1405 722h13v13h-13zM1420 722h20v13h-20zM1442 722h18v13h-18z"/>
<path class="b" d="M1145 722h10v13h-10zM1158 722h12v13h-12zM1175 722h10v13h-10zM1190 722h10v13h-10zM1204 722h11v13h-11zM1300 722h10v13h-10zM1340 722h10v13h-10zM1368 722h17v13h-17zM1388 722h12v13h-12z"/>
<path class="o" d="M1352.5 722.5h12v12h-12z"/>
</g>
<g id="oxo3">
<text class="t lb16" x="1315" y="659">5-oxoprolinase</text>
<line class="ar4" x1="1325" y1="663" x2="1325" y2="706"/>
<circle class="ring" cx="1325" cy="728" r="13.5"/>
</g>
</g>

</g>
</svg>
